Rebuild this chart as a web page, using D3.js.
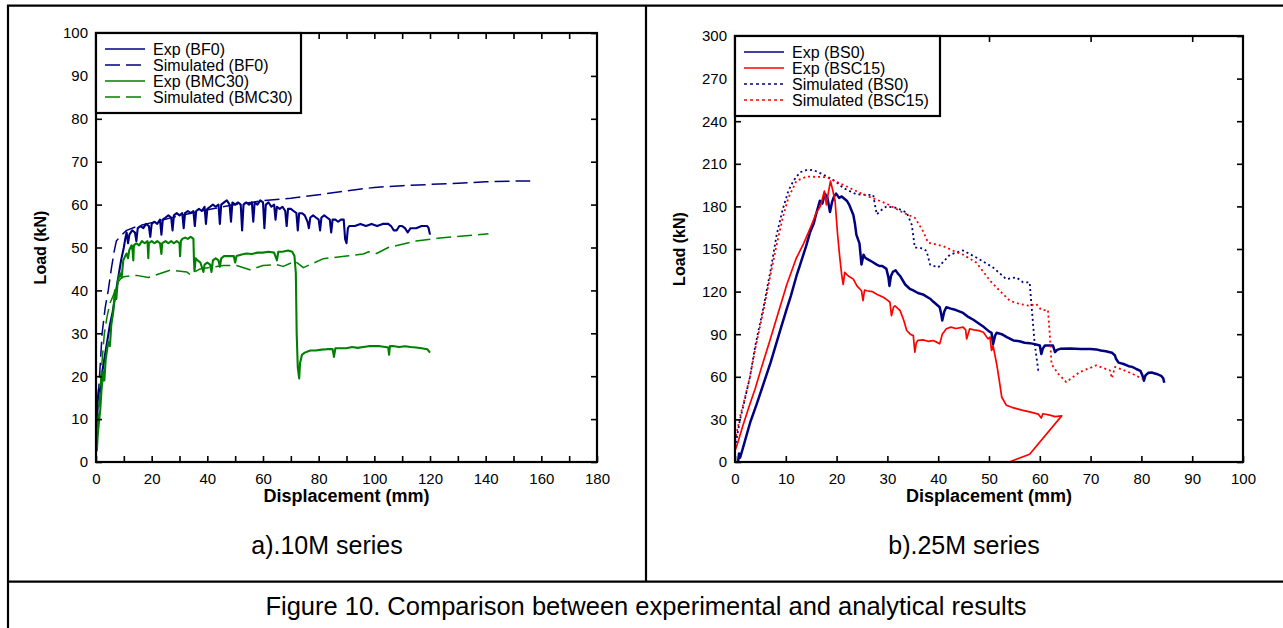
<!DOCTYPE html>
<html><head><meta charset="utf-8">
<script src="https://cdn.jsdelivr.net/npm/d3@7"></script>
<style>
body{margin:0;background:#fff}
svg{display:block}
text{font-family:"Liberation Sans",Arial,Helvetica,sans-serif;fill:#000}
</style>
</head><body>
<svg id="c" width="1283" height="628"></svg>
<script>
// ---------- Panel a) 10M series ----------
const expBF0 = [[0.3,8],[0.6,14],[1,17],[1.5,16],[2,20],[3,24],[4,28],[5,32],[6,35],[7,39],[8,43],[9,47],[10,50],[10.5,52],[11,53.5],[11.5,51],[12,53],[13,54],[14,53.5],[14.5,51.5],[15,54.5],[16,55],[17,54.5],[18,55.5],[19,55],[19.5,52.5],[20,55.5],[21,56],[22,55.5],[23,56.5],[23.5,53],[24,56.5],[25,57],[26,57.5],[27,57],[27.5,54],[28,57.5],[29,58],[30,57.5],[31,58],[31.5,54.5],[32,58],[33,58.5],[34,58],[35,58.5],[35.5,55],[36,58.5],[37,59],[38,58.5],[39,59.5],[39.5,55.5],[40,59],[41,59.5],[42,60],[43,59.5],[44,60],[44.5,55.5],[45,60],[46,60.5],[47,61],[48,60],[48.5,56],[49,60.5],[50,60],[51,60.5],[52,60],[52.5,54],[53,60],[54,60.5],[55,60],[56,60.5],[56.5,56],[57,60.5],[58,60],[59,61],[60,60.5],[60.5,54.5],[61,60],[62,60.5],[63,59.5],[64,60],[64.5,56.5],[65,59.5],[66,59],[67,59.5],[68,58.5],[68.5,55],[69,59],[70,59],[71,58.5],[72,58],[72.5,54],[73,58],[74,58],[75,57.5],[76,56],[76.5,54.5],[77,57],[78,57.5],[79,57],[80,56.5],[80.5,54],[81,57],[82,57.5],[83,57],[84,56.5],[84.5,53.5],[85,56.5],[86,56.5],[87,56],[88,56.5],[89,56.5],[89.5,52],[90,51],[90.5,54.5],[91,55],[93,55],[95,55.5],[97,55],[99,55.5],[101,55],[103,55.5],[105,55.5],[106,55],[107,54],[108,54],[109,55],[110,55],[111,54.5],[112,53.5],[113,54.5],[115,54.5],[117,55],[119,55],[119.5,54.5],[120,53]];
const simBF0 = [[0,5],[0.7,14],[2.2,30],[3.3,36],[4.4,40],[5.5,45],[6.5,49],[7.3,51.5],[9,52.8],[11,54],[15,55],[20,55.8],[30,57.4],[40,58.8],[50,60],[60,60.9],[70,61.5],[80,62.3],[90,63.2],[100,64],[110,64.4],[120,64.7],[130,65],[140,65.3],[150,65.5],[156,65.5]];
const expBMC30 = [[0.3,2.5],[0.6,6],[1,9],[1.5,12],[2,17],[2.6,21],[3,19],[3.5,24],[4.4,28],[5,27],[5.5,32],[6.2,35],[6.8,40],[7.3,38],[7.8,42],[8.6,44],[9.2,43],[9.8,47],[10.5,48],[11,48.6],[11.5,47.5],[12,49.5],[12.8,50.5],[13.2,49],[13.4,47],[13.6,50.5],[14.5,51],[15.5,50.5],[16.5,51.5],[17.5,51],[18.5,51.5],[18.8,47.5],[19,51],[20,51.5],[21,51],[22,51.5],[23,51],[23.5,48.5],[23.8,51],[25,51.5],[26,51],[27,51.5],[28,51],[29,51.5],[30,51],[30.2,48],[30.5,51.5],[31,52],[32,52.3],[33,52],[34,52.5],[35,52],[35.2,47],[35.4,44.5],[35.8,47.5],[36.5,47],[37.5,46.5],[38.6,44.3],[39,46],[40,46.5],[41,46],[41.5,44.3],[42,47],[43,47.5],[44,47],[44.5,45.5],[45,47.5],[46,48],[48,48],[49.5,48],[50,46.5],[50.5,48],[52,48.3],[54,48.6],[56,48.5],[58,48.8],[60,48.8],[62,49],[64,48.8],[65,47],[65.5,49],[67,49],[69,49.3],[70.5,49],[71.3,48],[71.8,44],[72.1,30],[72.5,22],[73,19.5],[73.3,23],[74,25],[75,25.5],[77,26],[79,26],[81,26.2],[83,26.3],[85,26.3],[85.5,24.5],[86,26.5],[88,26.5],[90,26.5],[92,26.8],[94,26.6],[96,26.8],[98,27],[100,27],[102,27],[104,26.8],[105,26.7],[105.3,25],[105.6,27],[107,27],[109,26.8],[111,27],[113,26.8],[115,26.7],[117,26.5],[119,26.3],[120,25.5]];
const simBMC30 = [[0,3],[1,12],[2,22],[3,30],[4,34],[5,37],[6,38.5],[7,40],[8,42],[9,42.8],[10,43.2],[14.6,43.5],[18.8,43],[26.6,44.7],[32.6,44.3],[33.8,43.7],[37.4,45],[45.7,45.8],[50.5,45.8],[55.3,44.8],[60,45.8],[65,46],[67.3,45.6],[71.5,46.8],[74.5,45.3],[81.7,47.4],[90,48],[96,48.5],[98,49],[100.8,48.6],[105,50],[115,51.5],[123.6,52.2],[141,53.2]];
const aXTicks = [0,10,20,30,40,50,60,70,80,90,100,110,120,130,140,150,160,170,180];
const aXLabels = [0,20,40,60,80,100,120,140,160,180];
const aYTicks = [0,10,20,30,40,50,60,70,80,90,100];
const aLegend = ["Exp (BF0)","Simulated (BF0)","Exp (BMC30)","Simulated (BMC30)"];

// ---------- Panel b) 25M series ----------
const expBS0 = [[0.6,0],[0.8,6],[1,3],[1.5,9],[3,28],[4.2,40],[5.6,55],[7,70],[8,82],[9,94],[10.2,108],[11,117],[12.1,131],[13,141],[14,152],[14.8,162],[15.5,168],[16,175],[16.7,184],[17.2,182],[17.7,189],[18.2,186],[18.7,176],[19.1,183],[19.5,187],[19.9,189],[20.5,186],[21,187],[22,184],[22.5,181],[23.3,174],[23.6,168],[23.9,160],[24.5,154],[24.9,139],[25.3,146],[25.6,144],[26,143],[26.5,142],[27,141],[27.9,139],[28.5,138],[29,138],[29.8,136],[30.2,130],[30.4,124],[30.7,131],[31.1,134],[31.6,135],[32,133],[32.5,131],[33,128],[33.5,125],[34.4,122],[35,121],[36,119],[37,118],[38.4,115],[39,113],[40.3,109],[40.6,104],[40.8,99.6],[41.2,106],[41.6,109],[42.5,108],[43.5,107],[44.9,105],[46,102],[47,100],[48.2,97],[49,95],[50,92],[50.5,91],[50.8,83],[51.2,89],[51.5,91],[52.5,90],[53.5,88],[54.8,85.6],[56,85],[57,84],[58,83.7],[59,83],[60,82],[60.3,76],[60.6,80],[61,82],[62,82],[62.6,82],[63,77.4],[63.4,79],[64,79.7],[66,80],[68,79.5],[70,79.5],[71.1,79.3],[72,78.5],[73,78],[74.2,77],[74.8,75],[75,72.7],[75.5,70],[76.5,69],[77.5,67.5],[78.2,67],[79,65.5],[79.8,64.2],[80.2,61],[80.5,57.2],[80.8,61],[81.4,62.8],[82,63],[83,62],[83.9,60.6],[84.3,59],[84.5,55.8]];
const expBSC15 = [[0,8],[0.5,13],[1.5,25],[2.95,41],[4,52],[5,64],[6.9,86],[8.5,105],[10.2,125],[12,143],[13.4,153],[14.5,162],[15.2,168],[16,175.6],[16.8,180],[17.6,190.8],[18,181],[18.4,190],[18.8,197.8],[19.2,192],[19.7,183.8],[20.2,160],[20.6,145],[21,132],[21.3,125],[21.6,133.5],[22.3,131],[23.3,128.8],[24,124],[24.9,120.6],[25.2,113.6],[25.5,121],[26,120.6],[27,120],[28,118],[29.2,116],[30,114],[30.5,112.5],[30.8,103],[31.2,109],[31.5,110],[32.5,106.6],[33.2,100],[33.8,92.6],[34.5,90],[35.1,89],[35.4,77.4],[35.7,84],[36,85.6],[37,86],[38,85],[39,85.5],[39.7,84.4],[40.3,83.2],[40.8,90],[41.6,93.8],[42.5,95],[43.5,94],[44.9,95],[45.4,93],[45.6,86.7],[46.2,93.8],[47,93],[48,92.5],[48.9,91.4],[49.8,86.7],[50.2,88],[50.5,78.6],[50.8,82],[51.5,69.2],[52,58],[52.5,45.8],[53.4,40],[54.5,38.5],[55.4,37.6],[56.5,36.5],[58,35.3],[59.7,33.7],[60.3,31],[60.6,34],[62,33],[63,32],[64.3,32.5],[58,5.5],[54,0]];
const simBS0 = [[0,10],[1,30],[2,45],[2.95,60],[4,82],[5.6,109],[7,135],[8.2,160],[9.4,178],[10.5,190.8],[11.5,198],[12.8,204],[14,205.5],[15.4,205.7],[17,203],[18.7,200],[20,197],[21.3,193],[23.9,188.5],[27.2,188],[27.9,174.4],[29,178],[29.8,180],[31.8,179],[33.8,175.6],[34.8,167],[35.4,151],[36.4,151],[37.7,148.7],[38.4,139],[40,137],[42.3,146],[44.9,149],[47.5,144],[50.8,137],[53.4,128.8],[55.4,130],[56.7,126.5],[58,126.5],[58.4,109],[59,83],[59.7,64.5],[60.3,64.5]];
const simBSC15 = [[0,15],[1,32],[2,46],[2.95,60],[4,80],[5.6,106.6],[7,132],[8.2,153],[9.4,172],[10.5,186],[12.1,198],[14.1,201],[18,200.6],[22,194],[25.2,188.5],[29.8,182],[33.1,175.6],[35.4,172],[37,162.7],[38,154.5],[41,152],[43,148.7],[44.9,146],[47.5,140.5],[50.2,127.7],[52.1,120.6],[54.1,113.6],[56,111.3],[58,110],[59.3,111.3],[60.3,107],[61.6,107],[62,88],[62.3,69],[63.6,62.2],[65.2,56.3],[67.9,63.4],[71.1,68],[73.8,64.5],[74.2,59],[74.8,67],[77.8,62.8],[80.2,58.6]];
const bXTicks = [0,10,20,30,40,50,60,70,80,90,100];
const bTopTicks = [10,30,50,70,90];
const bYTicks = [0,30,60,90,120,150,180,210,240,270,300];
const bLegend = ["Exp (BS0)","Exp (BSC15)","Simulated (BS0)","Simulated (BSC15)"];

const xTitle = "Displacement (mm)";
const yTitle = "Load (kN)";
const panelTitles = ["a).10M series","b).25M series"];
const caption = "Figure 10. Comparison between experimental and analytical results";

const NAVY = "#000080", GREEN = "#008000", RED = "#ff0000";

const svg = d3.select("#c");

// outer frame / cell borders
const frame = svg.append("g").attr("stroke","#000").attr("stroke-width",2.2);
frame.append("line").attr("x1",7).attr("x2",1283).attr("y1",5.7).attr("y2",5.7);
frame.append("line").attr("x1",8).attr("x2",8).attr("y1",5).attr("y2",628);
frame.append("line").attr("x1",646).attr("x2",646).attr("y1",5).attr("y2",582);
frame.append("line").attr("x1",8).attr("x2",1283).attr("y1",581.7).attr("y2",581.7);

function panel(cfg){
  const x = d3.scaleLinear().domain(cfg.xDomain).range([cfg.L, cfg.R]);
  const y = d3.scaleLinear().domain(cfg.yDomain).range([cfg.B, cfg.T]);
  const g = svg.append("g");
  const cid = "clip" + cfg.id;
  svg.append("defs").append("clipPath").attr("id",cid).append("rect")
    .attr("x",cfg.L).attr("y",cfg.T).attr("width",cfg.R-cfg.L).attr("height",cfg.B-cfg.T);

  const line = d3.line().x(d=>x(d[0])).y(d=>y(d[1]));
  const sg = g.append("g").attr("clip-path",`url(#${cid})`);
  cfg.series.forEach(s=>{
    sg.append("path").datum(s.data).attr("d",line)
      .attr("fill","none").attr("stroke",s.color).attr("stroke-width",s.width)
      .attr("stroke-linejoin","round")
      .attr("stroke-dasharray",s.dash||null);
  });

  // axes
  const lab = new Set(cfg.xLabels);
  const ax = [
    d3.axisBottom(x).tickValues(cfg.xTicks).tickSize(-6).tickPadding(11).tickFormat(d=>lab.has(d)?d:""),
    d3.axisTop(x).tickValues(cfg.topTicks).tickSize(-6).tickFormat(""),
    d3.axisLeft(y).tickValues(cfg.yTicks).tickSize(-6).tickPadding(8),
    d3.axisRight(y).tickValues(cfg.yTicks).tickSize(-6).tickFormat("")
  ];
  const tr = [`translate(0,${cfg.B})`,`translate(0,${cfg.T})`,`translate(${cfg.L},0)`,`translate(${cfg.R},0)`];
  ax.forEach((a,i)=>{
    const ag = g.append("g").attr("transform",tr[i]).call(a);
    ag.select(".domain").remove();
    ag.selectAll("line").attr("stroke","#000").attr("stroke-width",1.6);
    ag.selectAll("text").attr("font-size",15).attr("font-family","Liberation Sans, Arial, sans-serif").attr("fill","#000");
  });
  g.append("rect").attr("x",cfg.L).attr("y",cfg.T).attr("width",cfg.R-cfg.L).attr("height",cfg.B-cfg.T)
    .attr("fill","none").attr("stroke","#000").attr("stroke-width",2.2);

  // axis titles
  g.append("text").attr("x",(cfg.L+cfg.R)/2).attr("y",501.5).attr("text-anchor","middle")
    .attr("font-weight","bold").attr("font-size",18).text(xTitle);
  g.append("text").attr("transform",`translate(${cfg.yTitleX},${(cfg.T+cfg.B)/2}) rotate(-90)`)
    .attr("text-anchor","middle").attr("dy","0.35em")
    .attr("font-weight","bold").attr("font-size",16).text(yTitle);

  // legend
  const lg = g.append("g");
  lg.append("rect").attr("x",cfg.L).attr("y",cfg.T).attr("width",cfg.legW).attr("height",cfg.legH)
    .attr("fill","#fff").attr("stroke","#000").attr("stroke-width",2.2);
  cfg.series.forEach((s,i)=>{
    const yy = cfg.legY0 + i*16;
    lg.append("line").attr("x1",cfg.L+9).attr("x2",cfg.L+49).attr("y1",yy).attr("y2",yy)
      .attr("stroke",s.color).attr("stroke-width",s.legWidth||1.6).attr("stroke-dasharray",s.legDash||s.dash||null);
    lg.append("text").attr("x",cfg.L+57).attr("y",yy).attr("dy","0.35em")
      .attr("font-size",16).text(cfg.legend[i]);
  });

  // panel title
  g.append("text").attr("x",cfg.titleX).attr("y",554).attr("text-anchor","middle")
    .attr("font-size",25).text(cfg.title);
}

panel({
  id:"a", L:96, R:597, T:33, B:462, xDomain:[0,180], yDomain:[0,100],
  xTicks:aXTicks, topTicks:aXTicks.slice(1,-1), xLabels:aXLabels, yTicks:aYTicks,
  yTitleX:40, legW:205, legH:80, legY0:49, legend:aLegend,
  titleX:327, title:panelTitles[0],
  series:[
    {data:expBF0, color:NAVY, width:2.1},
    {data:simBF0, color:NAVY, width:1.5, dash:"15,6", legDash:"15,6"},
    {data:expBMC30, color:GREEN, width:2.1},
    {data:simBMC30, color:GREEN, width:1.5, dash:"15,6", legDash:"15,6"}
  ]
});

panel({
  id:"b", L:735, R:1243, T:36, B:462, xDomain:[0,100], yDomain:[0,300],
  xTicks:bXTicks, topTicks:bTopTicks, xLabels:bXTicks, yTicks:bYTicks,
  yTitleX:679, legW:205, legH:80, legY0:52, legend:bLegend,
  titleX:964, title:panelTitles[1],
  series:[
    {data:expBS0, color:NAVY, width:2.5},
    {data:expBSC15, color:RED, width:1.7},
    {data:simBS0, color:NAVY, width:1.8, dash:"2,3", legDash:"3,3"},
    {data:simBSC15, color:RED, width:1.8, dash:"2,3", legDash:"3,3"}
  ]
});

svg.append("text").attr("x",646).attr("y",615).attr("text-anchor","middle")
  .attr("font-size",25.5).text(caption);
</script>
</body></html>
